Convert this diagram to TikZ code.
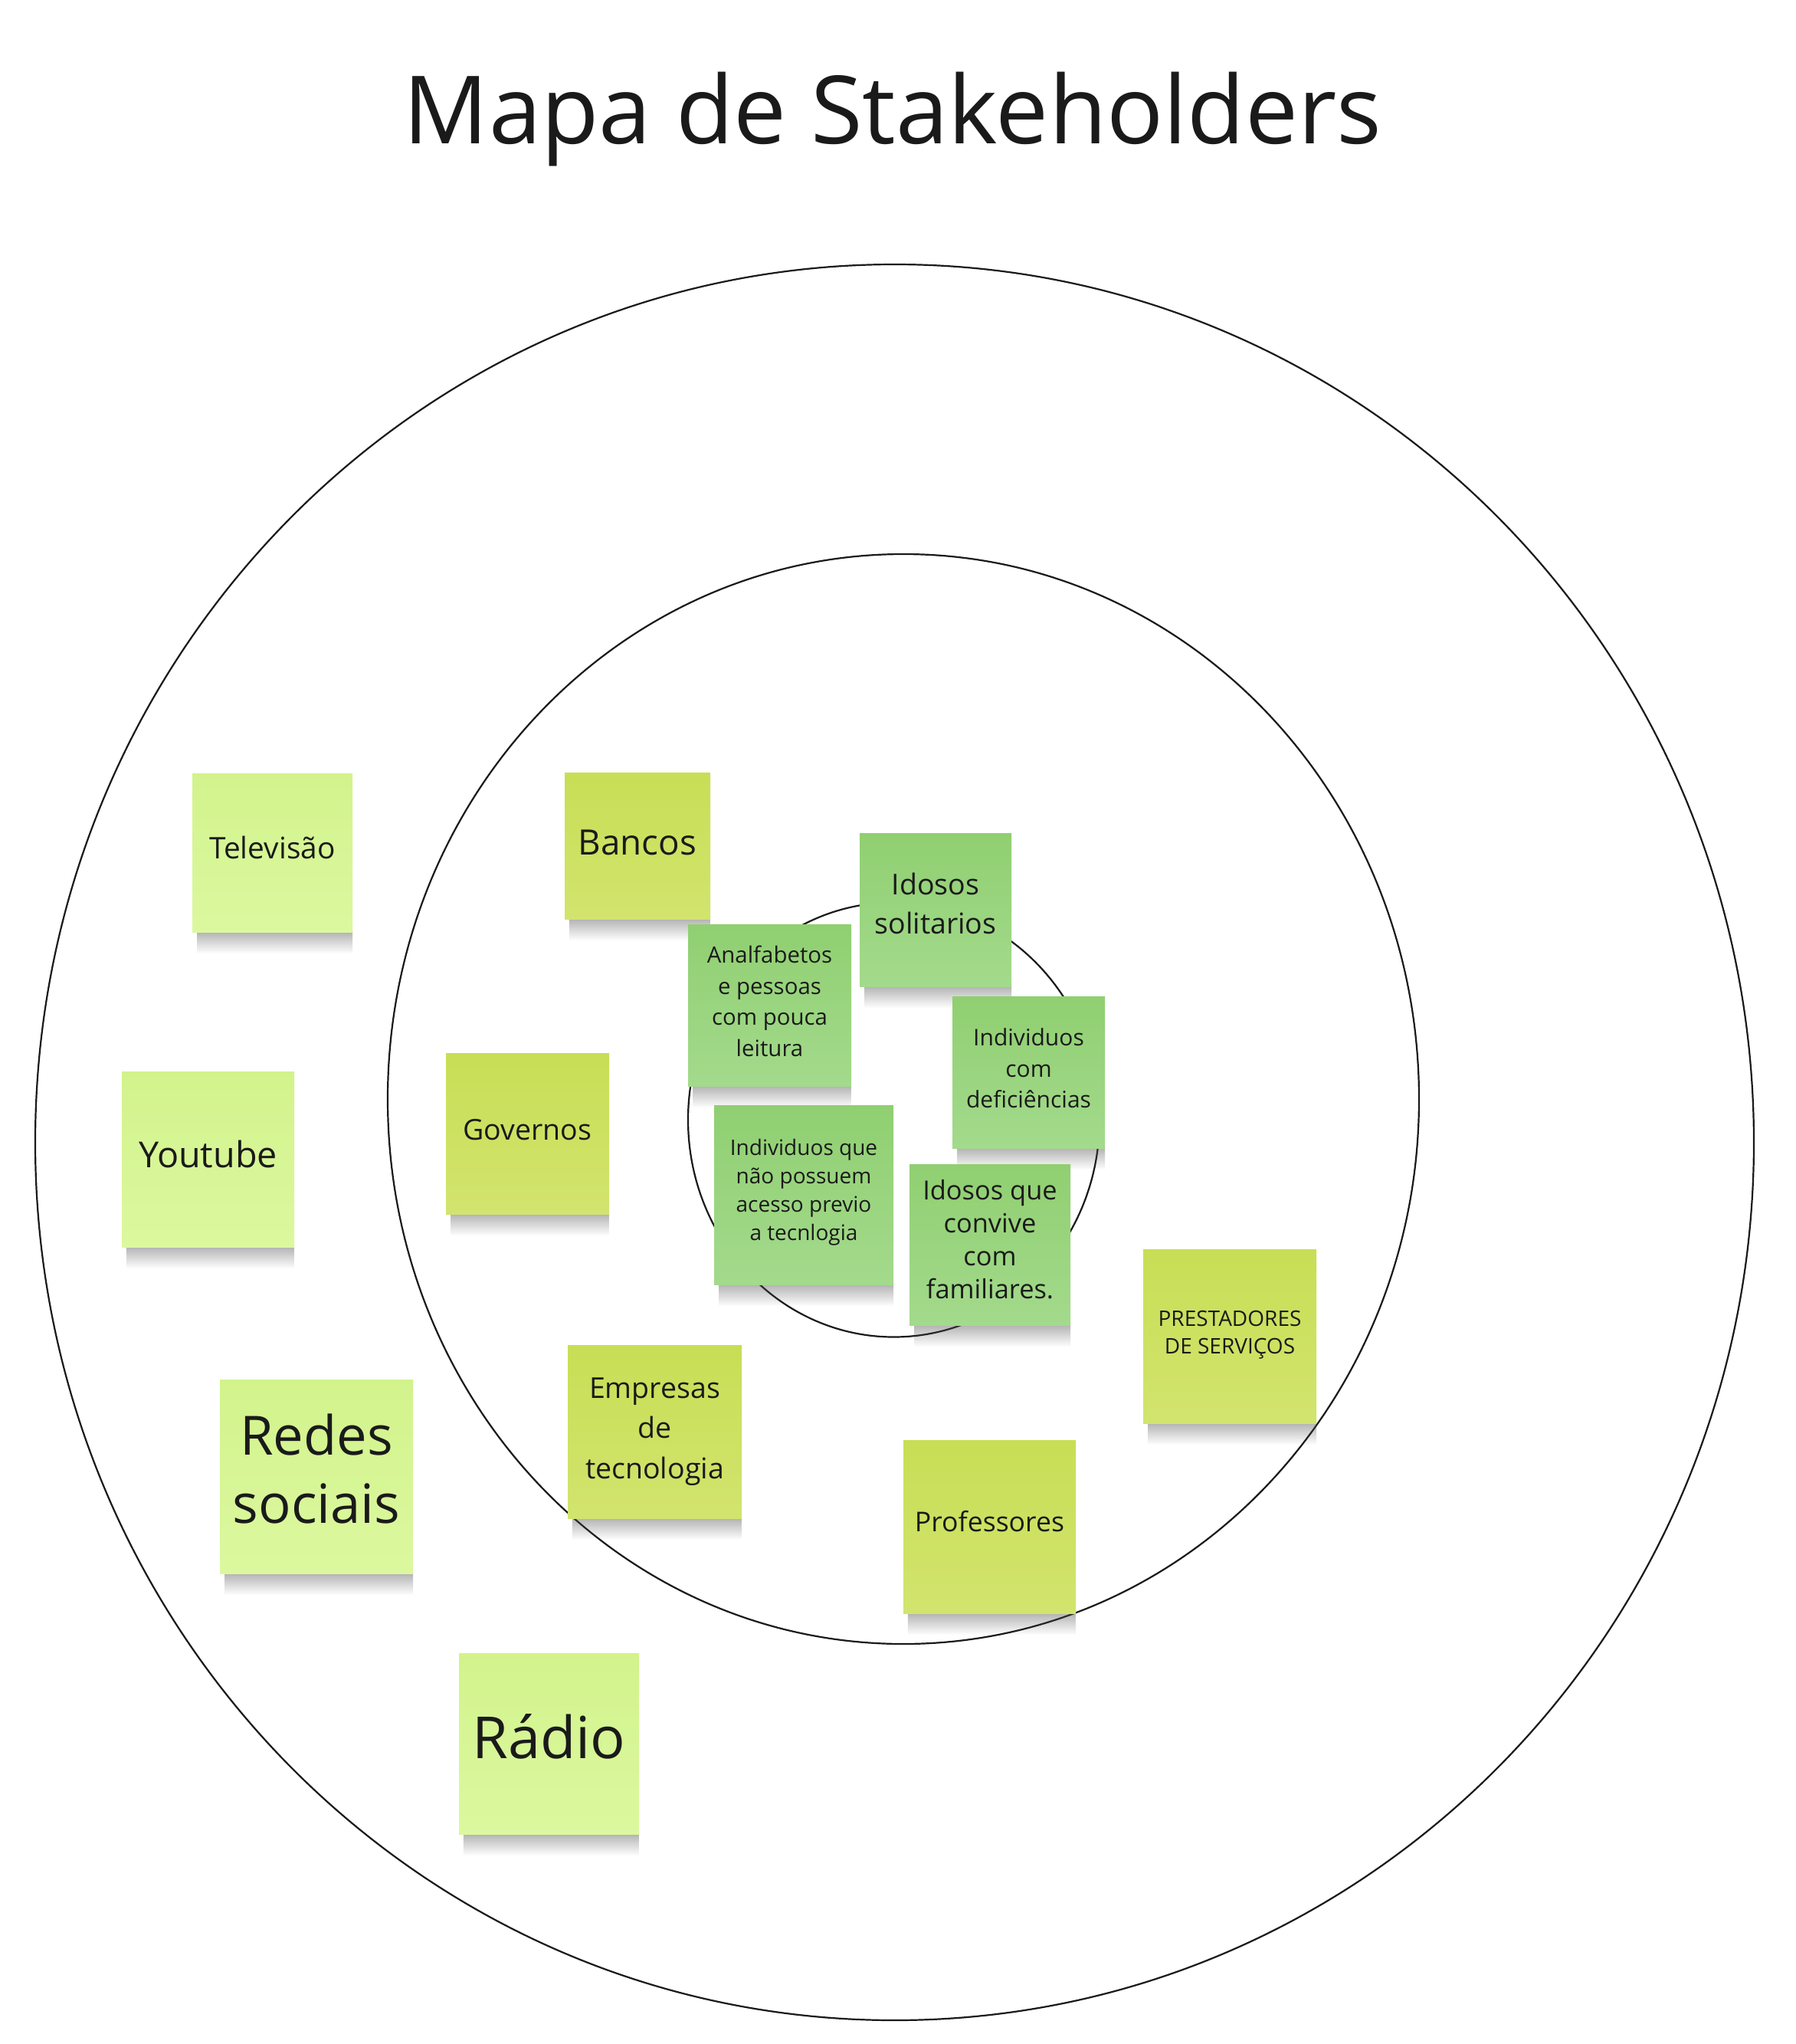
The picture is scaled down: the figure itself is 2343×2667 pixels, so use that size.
\documentclass[tikz,border=0pt]{standalone}
\usepackage{fontspec}
\setmainfont{Open Sans}
\usetikzlibrary{calc,fadings}
\definecolor{ink}{HTML}{1A1A1A}
\definecolor{limeAtop}{HTML}{D2F38C}
\definecolor{limeAbot}{HTML}{DCF89F}
\definecolor{limeBtop}{HTML}{C8DE55}
\definecolor{limeBbot}{HTML}{D2E46E}
\definecolor{grnTop}{HTML}{90CF71}
\definecolor{grnBot}{HTML}{A3DA8C}
\tikzfading[name=shfade, top color=transparent!25, bottom color=transparent!100]
\pgfdeclarehorizontalshading{shstrip}{100bp}{color(0bp)=(white); color(25bp)=(black!70); color(78bp)=(black!70); color(100bp)=(white)}
\pgfdeclarelayer{bg}
\pgfdeclarelayer{shadowlayer}
\pgfsetlayers{bg,shadowlayer,main}
\gdef\tshiftval{7}
\tikzset{
  ring/.style={draw=ink, line width=2.2pt},
  tshift/.code={\gdef\tshiftval{#1}},
  stickybase/.style={inner sep=0pt, outer sep=0pt},
  notetext/.style={inner sep=0pt, outer sep=0pt, text=ink, align=center},
  lightlime/.style={stickybase, top color=limeAtop, bottom color=limeAbot},
  darklime/.style={stickybase, top color=limeBtop, bottom color=limeBbot},
  greennote/.style={stickybase, top color=grnTop, bottom color=grnBot},
  noteshadow/.style={shading=shstrip, path fading=shfade, opacity=0.6}
}
% name, left, top, right, bottom, style, font size, baselineskip, text
\newcommand\sticky[9]{%
  \gdef\tshiftval{7}%
  \node[#6, minimum width={#4-#2}, minimum height={#5-#3}] (#1) at ({(#2+#4)/2},{(#3+#5)/2}) {};
  \node[notetext, font={\fontsize{#7}{#8}\selectfont}] (#1-text) at ($(#1.center)+(0,-\tshiftval)$) {#9};
  \begin{pgfonlayer}{shadowlayer}
    \shade[noteshadow] ($(#1.south west)+(6,-2)$) rectangle ($(#1.south east)+(0,28)$);
  \end{pgfonlayer}
}
\begin{document}
\begin{tikzpicture}[x=1pt, y=-1pt]
\useasboundingbox (0,0) rectangle (2343,2667);

\begin{pgfonlayer}{bg}
  \fill[white] (0,0) rectangle (2343,2667);
  \draw[ring] (1167.5,1490.5) ellipse [x radius=1121.5, y radius=1145.5];
  \draw[ring] (1179,1434) ellipse [x radius=673, y radius=711];
  \draw[ring] (1166.5,1461) ellipse [x radius=268.5, y radius=283.5];
\end{pgfonlayer}

\node[text=ink, anchor=base, font=\fontsize{123}{150}\selectfont] (title) at (1165,187) {Mapa de Stakeholders};

% outer ring
\sticky{tv}{251}{1009}{460}{1216}{lightlime}{38.8}{52}{Televisão}
\sticky{yt}{159}{1398}{384}{1627}{lightlime}{46.7}{62}{Youtube}
\sticky{redes}{287}{1800}{539}{2053}{lightlime, tshift=10}{70.6}{89}{Redes\\sociais}
\sticky{radio}{599}{2157}{834}{2393}{lightlime, tshift=9}{75.7}{95}{Rádio}

% middle ring
\sticky{bancos}{737}{1008}{927}{1199}{darklime, tshift=4}{45.7}{60}{Bancos}
\sticky{gov}{582}{1374}{795}{1584}{darklime, tshift=5}{37.5}{51}{Governos}
\sticky{empresas}{741}{1755}{968}{1981}{darklime, tshift=0}{37.5}{52.7}{Empresas\\de\\tecnologia}
\sticky{prof}{1179}{1879}{1404}{2105}{darklime}{35.6}{48}{Professores}
\sticky{prest}{1492}{1630}{1718}{1857}{darklime, tshift=2}{28}{36.6}{PRESTADORES\\DE SERVIÇOS}

% inner ring
\sticky{solit}{1122}{1087}{1320}{1287}{greennote, tshift=8}{37.5}{51}{Idosos\\solitarios}
\sticky{analf}{898}{1206}{1111}{1417}{greennote, tshift=5}{29.4}{40.6}{Analfabetos\\e pessoas\\com pouca\\leitura}
\sticky{defic}{1243}{1300}{1442}{1498}{greennote, tshift=5}{30}{40.6}{Individuos\\com\\deficiências}
\sticky{semacesso}{932}{1442}{1166}{1676}{greennote, tshift=3}{28}{37}{Individuos que\\não possuem\\acesso previo\\a tecnlogia}
\sticky{familia}{1187}{1519}{1397}{1729}{greennote, tshift=7}{34.4}{43}{Idosos que\\convive\\com\\familiares.}
\end{tikzpicture}
\end{document}
